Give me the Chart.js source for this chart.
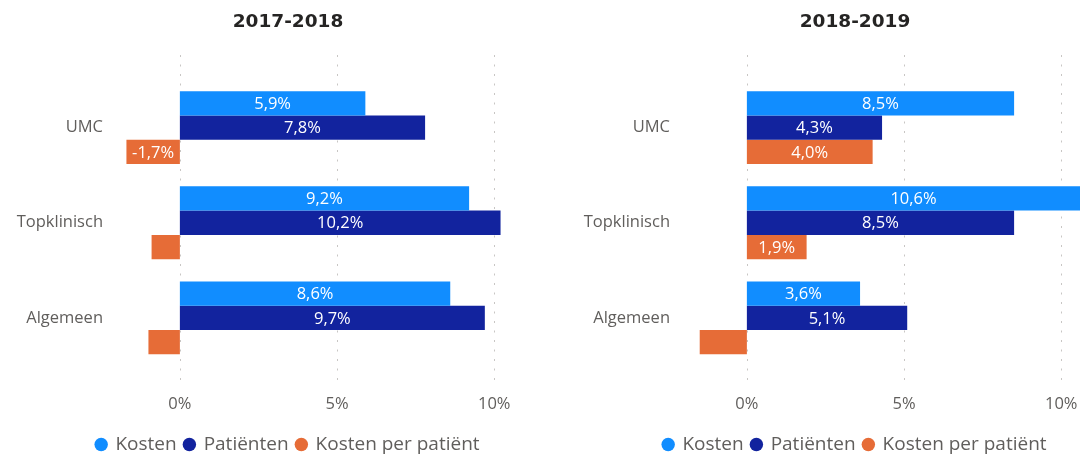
<!DOCTYPE html>
<html>
<head>
<meta charset="utf-8">
<script src="https://cdn.jsdelivr.net/npm/chart.js@4.4.0/dist/chart.umd.min.js"></script>
<style>
html,body{margin:0;padding:0;background:#fff;}
#wrap{position:relative;width:1080px;height:459px;overflow:hidden;background:#fff;}
.panel{position:absolute;top:0;width:576px;height:464px;}
#p1{left:0;}
#p2{left:567px;}
canvas{display:block;}
</style>
</head>
<body>
<div id="wrap">
  <div class="panel" id="p1"><canvas id="c1" width="576" height="464" style="width:576px;height:464px"></canvas></div>
  <div class="panel" id="p2"><canvas id="c2" width="576" height="464" style="width:576px;height:464px"></canvas></div>
</div>
<script>
// ---- data ----
const categories = ['UMC', 'Topklinisch', 'Algemeen'];
const seriesNames = ['Kosten', 'Patiënten', 'Kosten per patiënt'];
const titles = ['2017-2018', '2018-2019'];
const kosten1718 = [5.9, 9.2, 8.6];
const patienten1718 = [7.8, 10.2, 9.7];
const kpp1718 = [-1.7, -0.9, -1.0];
const kosten1819 = [8.5, 10.6, 3.6];
const patienten1819 = [4.3, 8.5, 5.1];
const kpp1819 = [4.0, 1.9, -1.5];
const tickValues = [0, 5, 10];
const axisMin = -2;
const axisMax = 12.6;

// ---- styles ----
const colors = ['#118DFF', '#12239E', '#E66C37'];
const gray = '#605E5C';
Chart.defaults.font.family = '"Open Sans", "Noto Sans", sans-serif';

const fmt = v => v.toFixed(1).replace('.', ',') + '%';

const dotGrid = {
  id: 'dotGrid',
  beforeDatasetsDraw(chart) {
    const {ctx, chartArea, scales: {x}} = chart;
    ctx.save();
    ctx.strokeStyle = '#c8c6c4';
    ctx.lineWidth = 1;
    ctx.setLineDash([2, 7.5]);
    x.ticks.forEach(t => {
      const px = Math.round(x.getPixelForValue(t.value)) + 0.5;
      ctx.beginPath();
      ctx.moveTo(px, chartArea.top - 25);
      ctx.lineTo(px, chartArea.bottom + 19);
      ctx.stroke();
    });
    ctx.restore();
  }
};

const barLabels = {
  id: 'barLabels',
  afterDatasetsDraw(chart) {
    const {ctx} = chart;
    ctx.save();
    ctx.font = '16.5px "Open Sans"';
    ctx.fillStyle = '#ffffff';
    ctx.textAlign = 'center';
    ctx.textBaseline = 'middle';
    chart.data.datasets.forEach((ds, i) => {
      chart.getDatasetMeta(i).data.forEach((bar, j) => {
        const txt = fmt(ds.data[j]);
        const w = Math.abs(bar.x - bar.base);
        if (w >= ctx.measureText(txt).width + 8) {
          ctx.fillText(txt, (bar.x + bar.base) / 2, bar.y + 1);
        }
      });
    });
    ctx.restore();
  }
};

function makeChart(id, title, kosten, patienten, kpp) {
  const series = [kosten, patienten, kpp];
  return new Chart(document.getElementById(id), {
    type: 'bar',
    data: {
      labels: categories,
      datasets: series.map((d, i) => ({
        label: seriesNames[i],
        data: d,
        backgroundColor: colors[i],
        borderWidth: 0,
        categoryPercentage: 0.766,
        barPercentage: 1.0
      }))
    },
    options: {
      indexAxis: 'y',
      responsive: false,
      animation: false,
      devicePixelRatio: 1,
      layout: {padding: 0},
      scales: {
        x: {
          type: 'linear',
          min: axisMin,
          max: axisMax,
          afterBuildTicks: s => { s.ticks = tickValues.map(v => ({value: v})); },
          afterFit: s => { s.height = 61.5; },
          grid: {display: false, drawTicks: false},
          border: {display: false},
          ticks: {
            padding: 28.5,
            color: gray,
            font: {size: 16.5},
            callback: v => v + '%'
          }
        },
        y: {
          afterFit: s => { s.width = 117; },
          grid: {display: false, drawTicks: false},
          border: {display: false},
          ticks: {padding: 14, color: gray, font: {size: 16.5}}
        }
      },
      plugins: {
        title: {
          display: true,
          text: title,
          color: '#252423',
          font: {family: '"DejaVu Sans"', size: 18.5, weight: 'bold'},
          padding: {top: 11, bottom: 46.8}
        },
        legend: {
          position: 'bottom',
          align: 'center',
          labels: {
            usePointStyle: true,
            pointStyle: 'circle',
            boxWidth: 9.5,
            boxHeight: 9.5,
            padding: 8,
            color: gray,
            font: {size: 19}
          }
        },
        tooltip: {enabled: false}
      }
    },
    plugins: [dotGrid, barLabels]
  });
}

makeChart('c1', titles[0], kosten1718, patienten1718, kpp1718);
makeChart('c2', titles[1], kosten1819, patienten1819, kpp1819);
</script>
</body>
</html>
